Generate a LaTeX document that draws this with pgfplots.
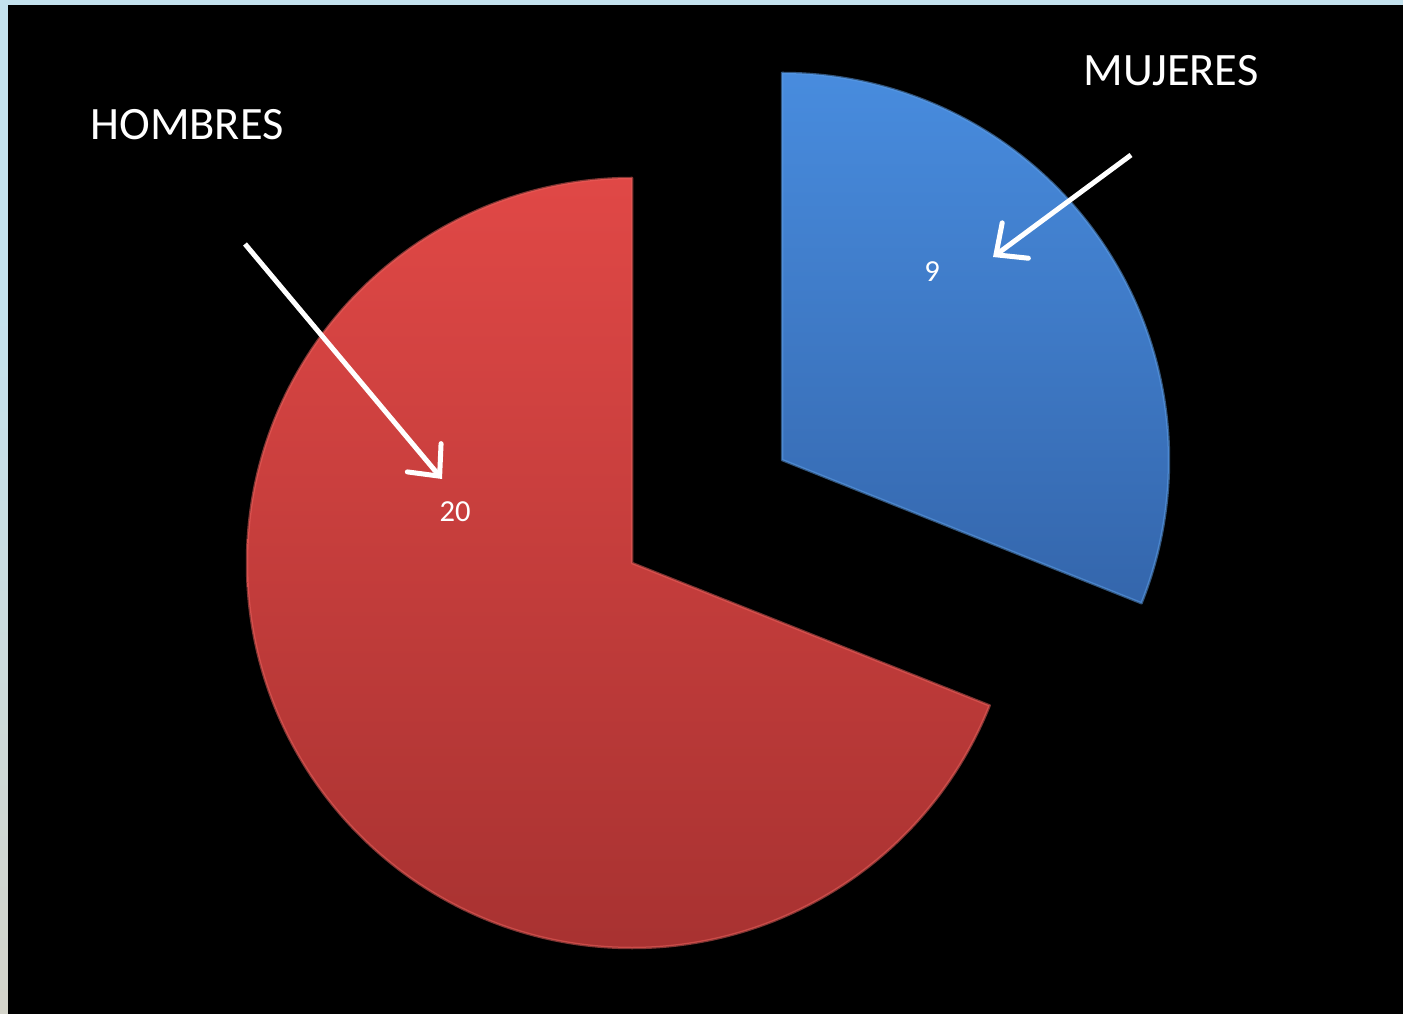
\documentclass[border=0pt]{standalone}
\usepackage{pgfplots}
\pgfplotsset{compat=1.18}
\usepackage{fontspec}
\setmainfont{Carlito}
\usetikzlibrary{arrows.meta}
\definecolor{bgblue}{RGB}{196,226,238}
\definecolor{bggrey}{RGB}{212,212,202}
\definecolor{redtop}{RGB}{224,72,70}
\definecolor{redbot}{RGB}{168,50,49}
\definecolor{rededge}{RGB}{232,96,92}
\definecolor{bluetop}{RGB}{72,140,222}
\definecolor{bluebot}{RGB}{52,102,172}
\definecolor{blueedge}{RGB}{92,156,228}
% data
\def\vHombres{20}
\def\vMujeres{9}
\pgfmathsetmacro\vTotal{\vHombres+\vMujeres}
\pgfmathsetmacro\angH{360*\vHombres/\vTotal}
\pgfmathsetmacro\angM{360*\vMujeres/\vTotal}
\begin{document}
\begin{tikzpicture}
\begin{axis}[
  scale only axis, width=14.03cm, height=10.14cm,
  xmin=0, xmax=1403, ymin=0, ymax=1014, y dir=reverse,
  hide axis,
]
% background
\fill[bgblue] (axis cs:0,0) rectangle (axis cs:1403,1014);
\shade[top color=bgblue, bottom color=bggrey] (axis cs:0,300) rectangle (axis cs:8,1014);
\fill[black] (axis cs:8,5) rectangle (axis cs:1403,1014);
% HOMBRES slice
\shade[top color=redtop, bottom color=redbot]
  (axis cs:632,563) -- ++(90:3.85cm) arc[start angle=90, delta angle=\angH, radius=3.85cm] -- cycle;
\draw[rededge, line width=0.025cm, line join=round, opacity=0.55]
  (axis cs:632,563) -- ++(90:3.85cm) arc[start angle=90, delta angle=\angH, radius=3.85cm] -- cycle;
% MUJERES slice
\shade[top color=bluetop, bottom color=bluebot]
  (axis cs:782,460) -- ++(90:3.87cm) arc[start angle=90, delta angle=-\angM, radius=3.87cm] -- cycle;
\draw[blueedge, line width=0.025cm, line join=round, opacity=0.55]
  (axis cs:782,460) -- ++(90:3.87cm) arc[start angle=90, delta angle=-\angM, radius=3.87cm] -- cycle;
% value labels
\node[white, font=\fontsize{8.7}{10}\selectfont] at (axis cs:455,512) {\vHombres};
\node[white, font=\fontsize{8.7}{10}\selectfont] at (axis cs:932,272) {\vMujeres};
% category labels
\node[white, font=\fontsize{13.2}{15}\selectfont] at (axis cs:187,125) {HOMBRES};
\node[white, font=\fontsize{13.2}{15}\selectfont] at (axis cs:1171,71) {MUJERES};
% arrows
\draw[white, line width=0.05cm, -{Straight Barb[length=0.24cm, width=0.44cm, line cap=round]}]
  (axis cs:245,244) -- (axis cs:442,479);
\draw[white, line width=0.05cm, -{Straight Barb[length=0.24cm, width=0.44cm, line cap=round]}]
  (axis cs:1131,155) -- (axis cs:993,257);
\end{axis}
\end{tikzpicture}
\end{document}
